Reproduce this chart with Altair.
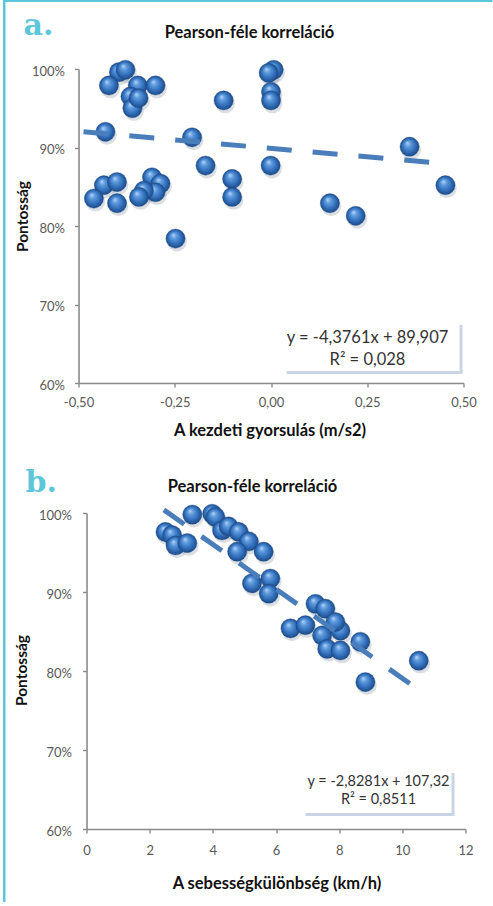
import altair as alt
import pandas as pd

# ---------------- data: panel a (initial acceleration vs accuracy) ----------------
a_x = [-0.395, -0.378, -0.421, -0.346, -0.300, -0.365, -0.360, -0.344, -0.123,
       0.007, -0.006, 0.000, 0.000, -0.430, -0.205, 0.360, -0.170, -0.001,
       -0.101, -0.101, -0.434, -0.400, -0.460, -0.400, -0.309, -0.287, -0.300,
       -0.330, -0.343, -0.248, 0.153, 0.220, 0.453]
a_y = [99.6, 99.9, 97.9, 97.9, 97.9, 96.5, 95.0, 96.3, 96.0,
       99.9, 99.5, 97.1, 96.0, 92.0, 91.3, 90.1, 87.7, 87.7,
       86.0, 83.7, 85.2, 85.6, 83.5, 82.9, 86.2, 85.4, 84.3,
       84.5, 83.7, 78.4, 82.9, 81.3, 85.2]
a_trend_x = [-0.487, 0.460]
a_trend_y = [92.0, 87.9]
a_eq = ["y = -4,3761x + 89,907", "R² = 0,028"]

# ---------------- data: panel b (speed difference vs accuracy) ----------------
b_x = [2.50, 2.71, 2.82, 3.19, 3.35, 3.98, 4.08, 4.29, 4.50, 4.82, 5.14, 4.77,
       5.61, 5.24, 5.82, 5.77, 7.25, 7.56, 6.46, 6.93, 7.46, 8.04, 7.88, 8.67,
       7.62, 8.04, 8.83, 10.52]
b_y = [97.6, 97.2, 95.9, 96.2, 99.8, 99.9, 99.5, 97.8, 98.3, 97.6, 96.4, 95.1,
       95.1, 91.1, 91.7, 89.8, 88.5, 87.9, 85.4, 85.8, 84.5, 85.1, 86.2, 83.7,
       82.8, 82.6, 78.6, 81.3]
b_trend_x = [2.45, 10.52]
b_trend_y = [100.4, 77.6]
b_eq = ["y = -2,8281x + 107,32", "R² = 0,8511"]

title_text = "Pearson-féle korreláció"
y_title = "Pontosság"
a_x_title = "A kezdeti gyorsulás (m/s2)"
b_x_title = "A sebességkülönbség (km/h)"
y_ticks = [60, 70, 80, 90, 100]
a_ticks = [-0.5, -0.25, 0.0, 0.25, 0.5]
b_ticks = [0, 2, 4, 6, 8, 10, 12]

FONT = "Lato"
CYAN = "#5cc6da"
AXIS_GRAY = "#8a8a8a"
LABEL_GRAY = "#595959"
LINE_BLUE = "#4a7ebb"
TITLE_COL = "#111111"

sphere_fill = alt.RadialGradient(
    gradient="radial",
    stops=[alt.GradientStop(color="#b9d7f7", offset=0.0),
           alt.GradientStop(color="#5e9ade", offset=0.3),
           alt.GradientStop(color="#2f6bb6", offset=0.72),
           alt.GradientStop(color="#1c4a85", offset=1.0)],
    x1=0.38, y1=0.3, r1=0.0, x2=0.5, y2=0.5, r2=0.5)

one = alt.Data(values=[{"k": 1}])


def const_rect(x, x2, y, y2, color, opacity=1.0):
    return alt.Chart(one).mark_rect(color=color, opacity=opacity).encode(
        x=alt.value(x), x2=alt.value(x2), y=alt.value(y), y2=alt.value(y2))


def const_text(txt, x, y, size, color, weight="normal", font=FONT,
               align="center", baseline="middle"):
    return alt.Chart(one).mark_text(
        text=txt, font=font, fontSize=size, fontWeight=weight, color=color,
        align=align, baseline=baseline).encode(x=alt.value(x), y=alt.value(y))


def panel(xs, ys, tx, ty, x_scale, x_axis, y_axis, W, H, extras):
    df = pd.DataFrame({"x": xs, "y": ys})
    tdf = pd.DataFrame({"x": tx, "y": ty})
    X = alt.X("x:Q", scale=x_scale, axis=x_axis)
    Y = alt.Y("y:Q", scale=alt.Scale(domain=[60, 100], nice=False, zero=False),
              axis=y_axis)
    shadow = alt.Chart(df).mark_circle(
        size=390, color="#4d5d73", opacity=0.2, xOffset=1.5, yOffset=3
    ).encode(x=X, y=Y)
    spheres = alt.Chart(df).mark_circle(
        size=370, fill=sphere_fill, opacity=1, stroke="#1f4c86", strokeWidth=0.6,
        strokeOpacity=0.6
    ).encode(x=X, y=Y)
    trend = alt.Chart(tdf).mark_line(
        color=LINE_BLUE, strokeWidth=5, strokeDash=[25, 21], strokeCap="butt"
    ).encode(x=X, y=Y)
    return alt.layer(shadow, spheres, trend, *extras).properties(width=W, height=H)


def y_axis(title_x, title_y, pad, offset=0):
    return alt.Axis(values=y_ticks, labelExpr="datum.value + '%'", title=y_title,
                    grid=False, domainColor=AXIS_GRAY, domainWidth=1.6,
                    tickColor=AXIS_GRAY, tickWidth=1.4, tickSize=4, offset=offset,
                    labelFont=FONT, labelFontSize=13, labelColor=LABEL_GRAY,
                    labelPadding=pad, labelOffset=2, labelBaseline="middle",
                    titleFont=FONT, titleFontSize=15.5, titleFontWeight="bold",
                    titleColor=TITLE_COL, titleX=title_x, titleY=title_y,
                    titleAngle=270, titleAlign="center", titleBaseline="middle")


def x_axis(values, expr, title, title_x, title_y, pad):
    return alt.Axis(values=values, labelExpr=expr, title=title,
                    grid=False, domainColor=AXIS_GRAY, domainWidth=1.6,
                    tickColor=AXIS_GRAY, tickWidth=1.4, tickSize=4,
                    labelFont=FONT, labelFontSize=13, labelColor=LABEL_GRAY,
                    labelPadding=pad, labelFlush=False,
                    titleFont=FONT, titleFontSize=16.5, titleFontWeight="bold",
                    titleColor=TITLE_COL, titleX=title_x, titleY=title_y,
                    titleAlign="center", titleBaseline="middle")


# ---------------- panel a ----------------
# group origin shared with panel b; x range shifted 8 px to the left
a_extras = [
    const_rect(-83.5, -81, -69, 381, CYAN),
    const_rect(-83.5, 406, -69, -67, CYAN),
    const_text("a.", -63, -34, 30, CYAN, "bold", "DejaVu Serif", "left", "alphabetic"),
    const_text(title_text, 163, -36, 16.5, TITLE_COL, "bold"),
    const_rect(200, 376, 256, 305, "#c3d0e2", 0.9),
    const_rect(197, 373, 253, 302, "#ffffff"),
    const_text(a_eq[0], 281, 269, 16.5, "#333333"),
    const_text(a_eq[1], 281, 291, 16.5, "#333333"),
]
a_chart = panel(
    a_x, a_y, a_trend_x, a_trend_y,
    alt.Scale(domain=[-0.5, 0.5], range=[-8, 377], nice=False, zero=False),
    x_axis(a_ticks,
           "(datum.value < 0 ? '-' : '') + replace(format(abs(datum.value), '.2f'), '.', ',')",
           a_x_title, 183, 47, 9),
    y_axis(-56, 147, 10, offset=8),
    377, 314, a_extras)

# ---------------- panel b ----------------
b_extras = [
    const_rect(-83.5, -81, -63, 389, CYAN),
    const_text("b.", -61, -21, 30, CYAN, "bold", "DejaVu Serif", "left", "alphabetic"),
    const_text(title_text, 166, -26, 16.5, TITLE_COL, "bold"),
    const_rect(219, 368, 260, 303, "#c3d0e2", 0.9),
    const_rect(216, 365, 257, 300, "#ffffff"),
    const_text(b_eq[0], 292, 269, 14.5, "#333333"),
    const_text(b_eq[1], 292, 287, 14.5, "#333333"),
]
b_chart = panel(
    b_x, b_y, b_trend_x, b_trend_y,
    alt.Scale(domain=[0, 12], nice=False, zero=False),
    x_axis(b_ticks, "format(datum.value, 'd')", b_x_title, 190, 54, 11),
    y_axis(-65, 157, 11),
    379, 316, b_extras)

chart = alt.concat(a_chart, b_chart, columns=1, spacing=0,
                   bounds="full").configure(
    padding={"left": 2.5, "top": 0, "right": 0, "bottom": 0},
    background="white",
).configure_view(stroke=None)

chart.save("out.html", embed_options={"renderer": "svg", "actions": False})
